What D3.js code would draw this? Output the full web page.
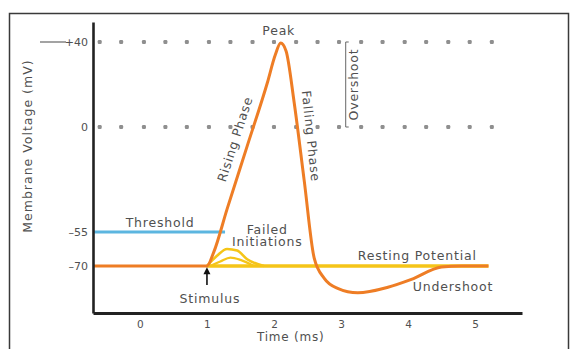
<!DOCTYPE html>
<html><head><meta charset="utf-8">
<script src="https://cdn.jsdelivr.net/npm/d3@7"></script>
<style>
html,body{margin:0;padding:0;background:#fff;}
svg text{font-family:"DejaVu Sans",sans-serif;fill:#505050;}
</style></head>
<body><svg id="c" width="576" height="349"></svg>
<script>
// ---- data ----
const xTicks = [0, 1, 2, 3, 4, 5];
const yTickValues = [40, 0, -55, -70];
const yTickLabels = ["+40", "0", "\u201355", "\u201370"];
const apTime = [-0.7, 1.0, 1.1, 1.3, 1.6, 1.9, 2.02, 2.1, 2.18, 2.3, 2.45, 2.6, 2.75, 2.95, 3.25, 3.7, 4.05, 4.5, 4.8, 5.2];
const apVolt = [-70, -70, -64, -43, -10, 20.7, 34, 39.5, 35.8, 11.8, -27.8, -66.5, -75.5, -80, -82, -79.5, -76, -70.4, -70, -70];
const thresholdTime = [-0.7, 1.27];
const thresholdVolt = [-55, -55];
const restingTime = [1.0, 5.2];
const restingVolt = [-70, -70];
const failOuterTime = [1.0, 1.15, 1.3, 1.45, 1.6, 1.85];
const failOuterVolt = [-70, -65.5, -62.5, -63.2, -67, -70];
const failInnerTime = [1.05, 1.2, 1.35, 1.5, 1.7];
const failInnerVolt = [-70, -68, -66.3, -67.3, -70];
const dotLevels = [40, 0];
const dotTimes = [-0.6, -0.28, 0.06, 0.38, 0.7, 1.03, 1.35, 1.68, 2.0, 2.33, 2.65, 2.97, 3.3, 3.62, 3.95, 4.27, 4.6, 4.92, 5.25];
const stimulusTime = 1.0;

// ---- scales ----
const svg = d3.select("#c");
const x = d3.scaleLinear().domain([-0.7, 5.7]).range([93, 522]);
const y = d3.scaleLinear().domain([-91, -70, -55, 0, 40, 49.4]).range([313, 266, 232, 127, 42, 22]);

// frame
svg.append("rect").attr("x", 9.5).attr("y", 13.5).attr("width", 559).attr("height", 345)
  .attr("fill", "none").attr("stroke", "#3a3a3a").attr("stroke-width", 1.5);

// dotted guide rows
dotLevels.forEach(v => {
  svg.append("g").selectAll("rect").data(dotTimes).join("rect")
    .attr("x", d => x(d) - 2).attr("y", y(v) - 2).attr("width", 4).attr("height", 4)
    .attr("rx", 1.2).attr("fill", "#8f8f8f");
});

const line = d3.line().x(d => x(d[0])).y(d => y(d[1]));
const zip = (a, b) => a.map((t, i) => [t, b[i]]);

// threshold
svg.append("path").datum(zip(thresholdTime, thresholdVolt)).attr("d", line)
  .attr("fill", "none").attr("stroke", "#5cb6e0").attr("stroke-width", 3.2);

// resting (yellow)
svg.append("path").datum(zip(restingTime, restingVolt)).attr("d", line)
  .attr("fill", "none").attr("stroke", "#f5c518").attr("stroke-width", 3.6);

// failed initiations
const smooth = d3.line().x(d => x(d[0])).y(d => y(d[1])).curve(d3.curveMonotoneX);
svg.append("path").datum(zip(failOuterTime, failOuterVolt)).attr("d", smooth)
  .attr("fill", "none").attr("stroke", "#f5c518").attr("stroke-width", 2.6);
svg.append("path").datum(zip(failInnerTime, failInnerVolt)).attr("d", smooth)
  .attr("fill", "none").attr("stroke", "#f5c518").attr("stroke-width", 2.2);

// action potential
svg.append("path").datum(zip(apTime, apVolt)).attr("d", smooth)
  .attr("fill", "none").attr("stroke", "#ee7d25").attr("stroke-width", 3)
  .attr("stroke-linejoin", "round");

// axes
const xAxis = d3.axisBottom(x).tickValues(xTicks).tickSize(0).tickPadding(8).tickFormat(d3.format("d"));
const gx = svg.append("g").attr("transform", `translate(0,${y(-91)})`).call(xAxis);
gx.select(".domain").attr("stroke", "#222").attr("stroke-width", 3);
gx.selectAll("text").attr("font-size", 10.5).attr("fill", "#555").style("font-family", "DejaVu Sans");

const yAxis = d3.axisLeft(y).tickValues(yTickValues).tickSize(0).tickPadding(5)
  .tickFormat((d, i) => yTickLabels[i]);
const gy = svg.append("g").attr("transform", `translate(${x(-0.7)},0)`).call(yAxis);
gy.select(".domain").attr("stroke", "#222").attr("stroke-width", 2.6);
gy.selectAll("text").attr("font-size", 11).attr("fill", "#555").style("font-family", "DejaVu Sans");
// leading dash for the +40 label
svg.append("line").attr("x1", 40).attr("x2", 66).attr("y1", y(40)).attr("y2", y(40))
  .attr("stroke", "#666").attr("stroke-width", 1.2);

// axis titles
svg.append("text").attr("x", x(2.25)).attr("y", 341).attr("text-anchor", "middle")
  .attr("font-size", 12).attr("letter-spacing", 0.8).text("Time (ms)");
svg.append("text").attr("transform", `translate(32,${y(-10)}) rotate(-90)`).attr("text-anchor", "middle")
  .attr("font-size", 12.5).attr("letter-spacing", 1).text("Membrane Voltage (mV)");

// annotations
const lab = (txt, px, py, rot, anchor) => svg.append("text")
  .attr("transform", `translate(${px},${py}) rotate(${rot || 0})`)
  .attr("text-anchor", anchor || "middle").attr("font-size", 12.5).attr("letter-spacing", 0.8).text(txt);

lab("Peak", x(2.1) - 2, y(40) - 7);
lab("Threshold", x(0.3), y(-55) - 5);
lab("Rising Phase", x(1.45) + 2, y(-5) + 4, -72);
lab("Falling Phase", x(2.5) - 1, y(-5), 84);
lab("Overshoot", x(3.2) + 4, y(20), -90);
lab("Failed", x(1.9), y(-55) + 2);
lab("Initiations", x(1.9), y(-55) + 14);
lab("Resting Potential", x(3.25), y(-70) - 6, 0, "start");
lab("Undershoot", x(4.07), y(-80) + 3, 0, "start");
lab("Stimulus", x(stimulusTime) + 3, y(-85) + 3);

// overshoot bracket
svg.append("path")
  .attr("d", `M${x(3.07)},${y(40)} h3 M${x(3.07)},${y(40)} V${y(0)} h3`)
  .attr("fill", "none").attr("stroke", "#666").attr("stroke-width", 1);

// stimulus arrow
svg.append("line").attr("x1", x(stimulusTime)).attr("x2", x(stimulusTime))
  .attr("y1", y(-78.5)).attr("y2", y(-72))
  .attr("stroke", "#111").attr("stroke-width", 1.6);
svg.append("path")
  .attr("d", `M${x(stimulusTime)},${y(-70.6)} l-3.5,7 h7 z`).attr("fill", "#111");
</script></body></html>
